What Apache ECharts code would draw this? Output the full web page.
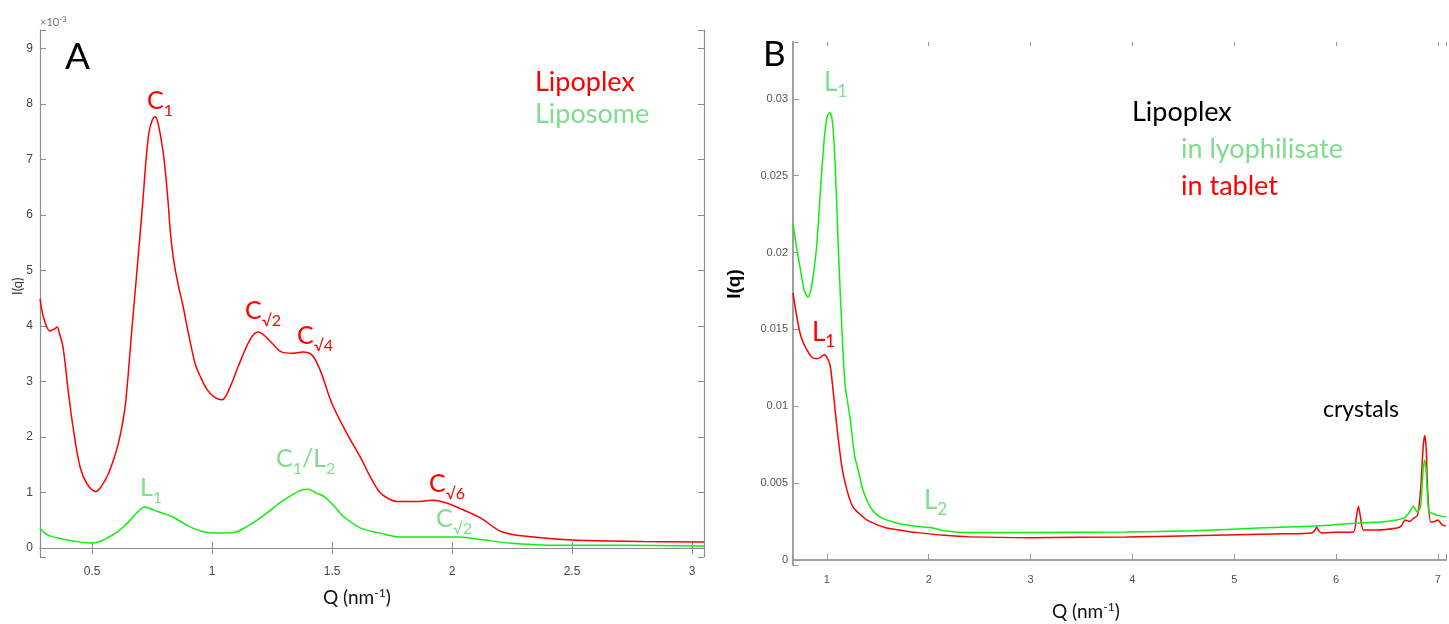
<!DOCTYPE html>
<html>
<head>
<meta charset="utf-8">
<script src="https://cdn.jsdelivr.net/npm/echarts@6/dist/echarts.min.js"></script>
<style>
  html, body { margin: 0; padding: 0; background: #fff; }
  #main { width: 1449px; height: 624px; }
</style>
</head>
<body>
<div id="main"></div>
<script>
// Panel A: I(q) in units of 1e-3
const qLipoplexA = [0.283, 0.30, 0.325, 0.345, 0.354, 0.365, 0.379, 0.40, 0.42, 0.45, 0.48, 0.516, 0.54, 0.566, 0.59, 0.608, 0.625, 0.641, 0.665, 0.691, 0.712, 0.725, 0.737, 0.75, 0.762, 0.772, 0.783, 0.80, 0.816, 0.826, 0.837, 0.848, 0.862, 0.879, 0.90, 0.929, 0.95, 0.98, 1.01, 1.041, 1.075, 1.108, 1.158, 1.192, 1.22, 1.25, 1.291, 1.333, 1.379, 1.416, 1.45, 1.5, 1.56, 1.62, 1.66, 1.70, 1.74, 1.77, 1.85, 1.92, 1.97, 2.03, 2.12, 2.21, 2.34, 2.52, 2.8, 3.05];
const iLipoplexA = [4.49, 4.12, 3.91, 3.95, 3.98, 3.85, 3.62, 2.85, 2.2, 1.46, 1.15, 1.02, 1.12, 1.32, 1.6, 1.86, 2.2, 2.67, 3.9, 5.19, 6.27, 7.0, 7.48, 7.7, 7.77, 7.7, 7.48, 7.0, 6.27, 5.7, 5.28, 4.98, 4.68, 4.36, 3.9, 3.33, 3.1, 2.85, 2.72, 2.67, 2.9, 3.26, 3.75, 3.89, 3.82, 3.69, 3.53, 3.51, 3.53, 3.48, 3.21, 2.6, 2.08, 1.62, 1.28, 1.0, 0.88, 0.84, 0.84, 0.86, 0.82, 0.72, 0.54, 0.29, 0.2, 0.14, 0.12, 0.11];

const qLiposomeA = [0.283, 0.30, 0.325, 0.37, 0.42, 0.5, 0.533, 0.57, 0.604, 0.63, 0.658, 0.69, 0.72, 0.76, 0.80, 0.837, 0.88, 0.92, 0.96, 1.01, 1.06, 1.1, 1.15, 1.2, 1.24, 1.28, 1.33, 1.37, 1.40, 1.43, 1.47, 1.51, 1.55, 1.62, 1.70, 1.78, 1.9, 2.03, 2.13, 2.24, 2.35, 2.45, 2.7, 3.05];
const iLiposomeA = [0.36, 0.28, 0.22, 0.17, 0.13, 0.09, 0.12, 0.2, 0.29, 0.38, 0.5, 0.65, 0.74, 0.68, 0.62, 0.56, 0.45, 0.36, 0.3, 0.27, 0.27, 0.29, 0.4, 0.54, 0.67, 0.81, 0.95, 1.04, 1.06, 1.0, 0.92, 0.75, 0.56, 0.36, 0.27, 0.2, 0.2, 0.2, 0.15, 0.09, 0.06, 0.05, 0.05, 0.04];

// Panel B: I(q)
const qLyophilisateB = [0.667, 0.70, 0.735, 0.775, 0.814, 0.84, 0.863, 0.885, 0.902, 0.93, 0.955, 0.98, 1.005, 1.03, 1.05, 1.07, 1.085, 1.1, 1.115, 1.135, 1.157, 1.18, 1.226, 1.275, 1.32, 1.353, 1.43, 1.52, 1.686, 1.85, 2.04, 2.15, 2.4, 3.0, 3.94, 4.6, 5.24, 5.8, 6.22, 6.5, 6.59, 6.67, 6.72, 6.76, 6.8, 6.83, 6.855, 6.87, 6.885, 6.905, 6.92, 6.96, 7.0, 7.08];
const iLyophilisateB = [0.0219, 0.0204, 0.0191, 0.0176, 0.0171, 0.0175, 0.0184, 0.0195, 0.0206, 0.0234, 0.0258, 0.0278, 0.0289, 0.0291, 0.0287, 0.0272, 0.025, 0.0225, 0.0198, 0.0168, 0.0137, 0.0113, 0.0093, 0.0067, 0.0055, 0.00456, 0.0034, 0.0028, 0.0024, 0.0022, 0.00208, 0.0019, 0.00178, 0.00178, 0.00182, 0.0019, 0.00208, 0.0022, 0.0024, 0.0025, 0.0026, 0.00273, 0.0031, 0.0035, 0.0031, 0.0035, 0.0058, 0.0065, 0.0058, 0.0035, 0.0031, 0.003, 0.0029, 0.0028];

const qTabletB = [0.667, 0.70, 0.735, 0.77, 0.804, 0.85, 0.902, 0.94, 0.97, 0.99, 1.03, 1.06, 1.098, 1.147, 1.196, 1.255, 1.32, 1.392, 1.49, 1.588, 1.75, 1.912, 2.15, 2.4, 3.0, 3.94, 4.8, 5.5, 5.76, 5.79, 5.81, 5.83, 5.86, 6.0, 6.17, 6.2, 6.22, 6.24, 6.27, 6.4, 6.6, 6.64, 6.68, 6.72, 6.76, 6.8, 6.83, 6.855, 6.87, 6.885, 6.9, 6.93, 6.97, 7.0, 7.04, 7.08];
const iTabletB = [0.01738, 0.016, 0.01478, 0.0141, 0.01367, 0.0132, 0.01309, 0.0132, 0.01335, 0.0133, 0.0127, 0.01107, 0.00866, 0.00605, 0.00456, 0.00345, 0.003, 0.0026, 0.0023, 0.00208, 0.0019, 0.00176, 0.0016, 0.0015, 0.00145, 0.0015, 0.0016, 0.0017, 0.00176, 0.0019, 0.00215, 0.0019, 0.00176, 0.0018, 0.00182, 0.0028, 0.0035, 0.0028, 0.00195, 0.00195, 0.00208, 0.0022, 0.0026, 0.0025, 0.0027, 0.0029, 0.0045, 0.0073, 0.0081, 0.0073, 0.0045, 0.00247, 0.0025, 0.0026, 0.0023, 0.0022];

const RED = '#ff0000';
const GREEN = '#10ee10';
const LABEL_GREEN = '#80dc8e';
const FONT = 'Lato';

const zip = (qs, is) => qs.map((q, k) => [q, is[k]]);

const ctx = document.createElement('canvas').getContext('2d');
function measure(str, size, weight) {
  ctx.font = (weight || 'normal') + ' ' + size + 'px ' + FONT;
  return ctx.measureText(str).width;
}

// text with subscript / superscript parts: parts = [[text, shift], ...]
function richLabel(x, y, parts, color, size, subSize) {
  const children = [];
  let cx = x;
  parts.forEach(([txt, shift]) => {
    const fs = shift ? subSize : size;
    children.push({
      type: 'text', x: cx, y: y + (shift || 0),
      style: { text: txt, fontSize: fs, fontFamily: FONT, fill: color, align: 'left', verticalAlign: 'middle' }
    });
    cx += measure(txt, fs);
  });
  return { type: 'group', children: children };
}

function plainText(x, y, text, color, size, extra) {
  return Object.assign({
    type: 'text', x: x, y: y,
    style: { text: text, fontSize: size, fontFamily: FONT, fill: color, align: 'left', verticalAlign: 'middle' }
  }, extra || {});
}

const multipleOf = (step) => (v) => Math.abs(v / step - Math.round(v / step)) < 1e-6 ? String(+v.toFixed(4)) : '';

const frameA = { lineStyle: { color: '#8c8c8c', width: 1.2 } };
const tickA = { inside: true, length: 6, lineStyle: { color: '#8c8c8c' } };
const labelA = { color: '#444', fontSize: 12, fontFamily: 'Liberation Sans' };
const frameB = { lineStyle: { color: '#a0a0a0', width: 2 } };
const tickB = { inside: true, length: 6, lineStyle: { color: '#999' } };
const labelB = { color: '#555', fontSize: 11, fontFamily: 'Liberation Sans' };

const xA = { gridIndex: 0, type: 'value', min: 0.283, max: 3.05, minInterval: 0.5, maxInterval: 0.5, splitLine: { show: false } };
const yA = { gridIndex: 0, type: 'value', min: -0.16, max: 9.33, minInterval: 1, maxInterval: 1, splitLine: { show: false } };
const xB = { gridIndex: 1, type: 'value', min: 0.667, max: 7.08, minInterval: 1, maxInterval: 1, splitLine: { show: false } };
const yB = { gridIndex: 1, type: 'value', min: -0.00033, max: 0.0337, minInterval: 0.005, maxInterval: 0.005, splitLine: { show: false } };

const chart = echarts.init(document.getElementById('main'));

const option = {
  animation: false,
  backgroundColor: '#fff',
  grid: [
    { left: 40, top: 30, width: 664, height: 527 },
    { left: 793, top: 42, width: 656, height: 523 }
  ],
  xAxis: [
    Object.assign({}, xA, { position: 'bottom', axisLine: frameA, axisTick: tickA,
      axisLabel: Object.assign({ margin: 9, formatter: multipleOf(0.5) }, labelA) }),
    Object.assign({}, xA, { position: 'top', axisLine: frameA, axisTick: tickA, axisLabel: { show: false } }),
    Object.assign({}, xB, { position: 'bottom', axisLine: frameB, axisTick: tickB,
      axisLabel: Object.assign({ margin: 9, formatter: multipleOf(1) }, labelB) }),
    Object.assign({}, xB, { position: 'top', axisLine: { show: false }, axisTick: { inside: true, length: 4, lineStyle: { color: '#999' } }, axisLabel: { show: false } })
  ],
  yAxis: [
    Object.assign({}, yA, { position: 'left', axisLine: frameA, axisTick: tickA,
      axisLabel: Object.assign({ margin: 7, formatter: multipleOf(1) }, labelA) }),
    Object.assign({}, yA, { position: 'right', axisLine: frameA, axisTick: tickA, axisLabel: { show: false } }),
    Object.assign({}, yB, { position: 'left', axisLine: frameB, axisTick: tickB,
      axisLabel: Object.assign({ margin: 5, formatter: multipleOf(0.005) }, labelB) })
  ],
  series: [
    { name: 'Lipoplex', type: 'line', xAxisIndex: 0, yAxisIndex: 0, data: zip(qLipoplexA, iLipoplexA),
      smooth: 0.35, showSymbol: false, lineStyle: { color: RED, width: 1.5 } },
    { name: 'Liposome', type: 'line', xAxisIndex: 0, yAxisIndex: 0, data: zip(qLiposomeA, iLiposomeA),
      smooth: 0.35, showSymbol: false, lineStyle: { color: GREEN, width: 1.5 } },
    { name: 'in tablet', type: 'line', xAxisIndex: 2, yAxisIndex: 2, data: zip(qTabletB, iTabletB),
      smooth: 0.25, showSymbol: false, lineStyle: { color: RED, width: 1.5 } },
    { name: 'in lyophilisate', type: 'line', xAxisIndex: 2, yAxisIndex: 2, data: zip(qLyophilisateB, iLyophilisateB),
      smooth: 0.25, showSymbol: false, lineStyle: { color: GREEN, width: 1.5 } }
  ],
  graphic: [
    // panel A
    plainText(65, 57, 'A', '#000', 37),
    richLabel(40, 22, [['×10', 0], ['-3', -3]], '#777', 11, 8),
    plainText(535, 82, 'Lipoplex', RED, 27),
    plainText(535, 114, 'Liposome', LABEL_GREEN, 27),
    richLabel(147, 101, [['C', 0], ['1', 10]], RED, 25, 16),
    richLabel(245, 311, [['C', 0], ['√2', 10]], RED, 25, 16),
    richLabel(297, 336, [['C', 0], ['√4', 10]], RED, 25, 16),
    richLabel(429, 484, [['C', 0], ['√6', 10]], RED, 25, 16),
    richLabel(140, 488, [['L', 0], ['1', 10]], LABEL_GREEN, 25, 16),
    richLabel(276, 459, [['C', 0], ['1', 10], ['/L', 0], ['2', 10]], LABEL_GREEN, 25, 16),
    richLabel(436, 519, [['C', 0], ['√2', 10]], LABEL_GREEN, 25, 16),
    plainText(18, 295, 'I(q)', '#333', 13, { rotation: Math.PI / 2 }),
    richLabel(323, 598, [['Q (nm', 0], ['-1', -5], [')', 0]], '#111', 19, 12),
    // panel B
    plainText(763, 55, 'B', '#000', 35),
    richLabel(824, 83, [['L', 0], ['1', 9]], LABEL_GREEN, 26, 17),
    richLabel(812, 333, [['L', 0], ['1', 9]], RED, 26, 17),
    richLabel(924, 501, [['L', 0], ['2', 9]], LABEL_GREEN, 26, 17),
    plainText(1132, 112, 'Lipoplex', '#000', 27),
    plainText(1181, 149, 'in lyophilisate', LABEL_GREEN, 27),
    plainText(1181, 186, 'in tablet', RED, 27),
    plainText(1323, 410, 'crystals', '#000', 23),
    { type: 'text', x: 735, y: 284, rotation: Math.PI / 2,
      style: { text: 'I(q)', fontSize: 19, fontWeight: 'bold', fontFamily: 'Liberation Sans', fill: '#000', align: 'center', verticalAlign: 'middle' } },
    richLabel(1052, 612, [['Q (nm', 0], ['-1', -5], [')', 0]], '#111', 19, 12)
  ]
};

chart.setOption(option);
</script>
</body>
</html>
